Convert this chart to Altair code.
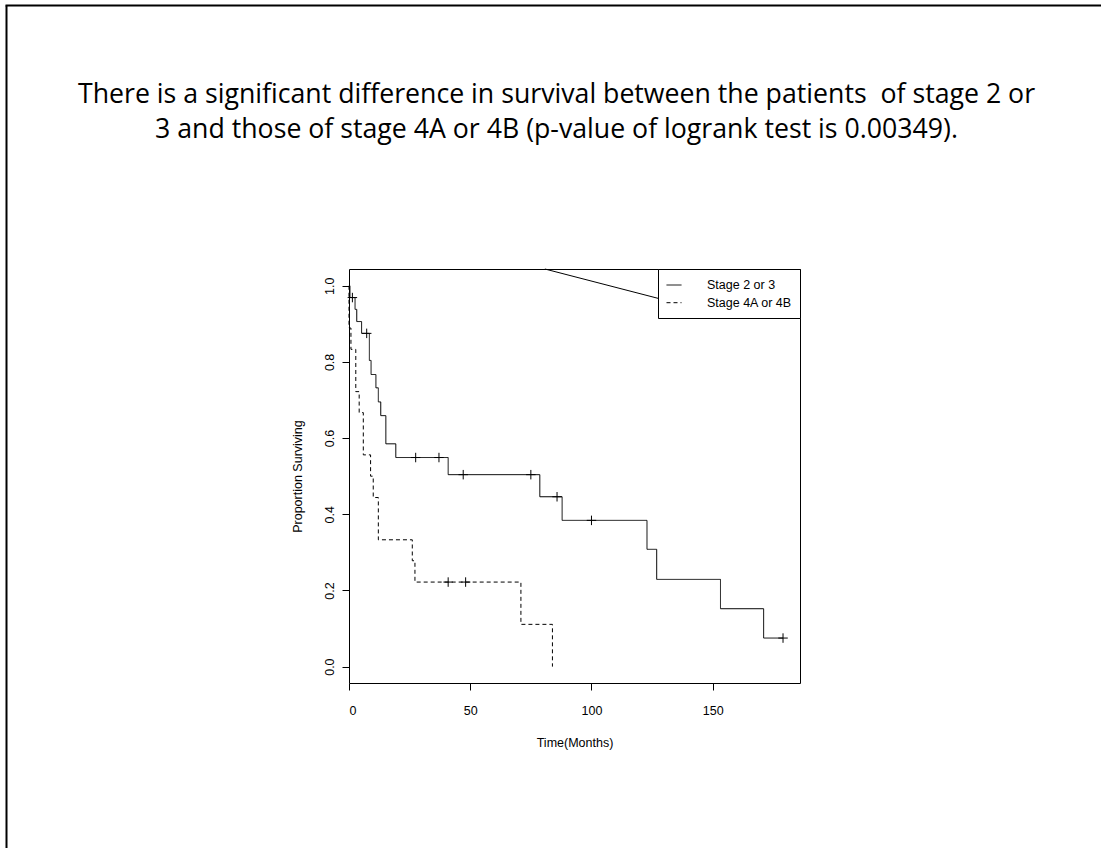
import altair as alt
import pandas as pd

# ---------------- data ----------------
groups = ["Stage 2 or 3", "Stage 4A or 4B"]

# Kaplan-Meier step points, Stage 2 or 3 (solid)
s23_time = [0, 0.4, 2.5, 3.2, 5.2, 8.4, 9.1, 11.1, 12.1, 13.1, 15.2, 19.3,
            40.9, 78.7, 87.9, 122.9, 126.9, 153.2, 171.0, 179.0]
s23_surv = [1.0, 0.969, 0.938, 0.906, 0.875, 0.804, 0.767, 0.732, 0.695, 0.659,
            0.585, 0.549, 0.504, 0.446, 0.384, 0.308, 0.229, 0.152, 0.075, 0.075]
# censored observations, Stage 2 or 3
s23_cens_time = [1.4, 7.3, 27.5, 37.1, 47.1, 75.0, 85.8, 100.0, 179.0]
s23_cens_surv = [0.969, 0.875, 0.549, 0.549, 0.504, 0.504, 0.446, 0.384, 0.075]

# Kaplan-Meier step points, Stage 4A or 4B (dashed)
s4_time = [0, 0, 0.8, 2.8, 4.2, 5.9, 8.9, 10.0, 12.1, 26.1, 27.2, 70.9, 83.9]
s4_surv = [1.0, 0.889, 0.833, 0.722, 0.667, 0.556, 0.5, 0.444, 0.333, 0.278,
           0.222, 0.111, 0.0]
# censored observations, Stage 4A or 4B
s4_cens_time = [40.9, 48.1]
s4_cens_surv = [0.222, 0.222]

# stray line drawn from the legend placement in the original figure
stray_x = [80.8]
stray_y = [1.044]
stray_x2 = [133.5]
stray_y2 = [0.957]

x_ticks = [0, 50, 100, 150]
y_ticks = [0.0, 0.2, 0.4, 0.6, 0.8, 1.0]

title_lines = [
    "There is a significant difference in survival between the patients \u00a0of stage 2 or",
    "3 and those of stage 4A or 4B (p-value of logrank test is 0.00349).",
]

# ---------------- tables ----------------
steps = pd.DataFrame({
    "group": [groups[0]] * len(s23_time) + [groups[1]] * len(s4_time),
    "time": s23_time + s4_time,
    "surv": s23_surv + s4_surv,
    "idx": list(range(len(s23_time))) + list(range(len(s4_time))),
})
cens = pd.DataFrame({
    "group": [groups[0]] * len(s23_cens_time) + [groups[1]] * len(s4_cens_time),
    "time": s23_cens_time + s4_cens_time,
    "surv": s23_cens_surv + s4_cens_surv,
})
stray = pd.DataFrame({"x": stray_x, "y": stray_y, "x2": stray_x2, "y2": stray_y2})
one = pd.DataFrame({"a": [0]})

FONT = "Liberation Sans"
x_scale = alt.Scale(domain=[0, 186], nice=False, zero=False)
y_scale = alt.Scale(domain=[-0.043, 1.044], nice=False, zero=False)

x_enc = alt.X("time:Q", scale=x_scale,
              axis=alt.Axis(values=x_ticks, title="Time(Months)", format="d",
                            labelPadding=14, titlePadding=20))
y_enc = alt.Y("surv:Q", scale=y_scale,
              axis=alt.Axis(values=y_ticks, title="Proportion Surviving", format=".1f",
                            labelAngle=270, labelAlign="center", labelBaseline="bottom",
                            labelPadding=6, titlePadding=19))

lines = alt.Chart(steps).mark_line(
    interpolate="step-after", color="black", strokeWidth=1
).encode(
    x=x_enc,
    y=y_enc,
    strokeDash=alt.StrokeDash(
        "group:N",
        scale=alt.Scale(domain=groups, range=[[1, 0], [4, 3]]),
        legend=alt.Legend(
            title=None, orient="top-right", offset=0, symbolType="stroke",
            symbolSize=225, symbolStrokeWidth=1, symbolStrokeColor="black",
            labelFont=FONT, labelFontSize=12.5, labelColor="black",
            labelOffset=25, padding=8, rowPadding=2.7,
            strokeColor="black", fillColor="white", cornerRadius=0,
        ),
    ),
    order=alt.Order("idx:Q"),
)

marks = alt.Chart(cens).mark_point(
    shape="M-1,0L1,0M0,-1L0,1", filled=False, color="black", strokeWidth=1,
    size=90, opacity=1
).encode(x=alt.X("time:Q", scale=x_scale), y=alt.Y("surv:Q", scale=y_scale))

stray_line = alt.Chart(stray).mark_rule(color="black", strokeWidth=1).encode(
    x=alt.X("x:Q", scale=x_scale), y=alt.Y("y:Q", scale=y_scale),
    x2="x2:Q", y2="y2:Q",
)

# page frame (left and top edges of the original document box)
frame_left = alt.Chart(one).mark_rule(color="black", strokeWidth=2).encode(
    x=alt.value(-342.5), y=alt.value(-263.5), y2=alt.value(579)
)
frame_top = alt.Chart(one).mark_rule(color="black", strokeWidth=2).encode(
    x=alt.value(-343.5), x2=alt.value(752), y=alt.value(-263.5)
)

chart = alt.layer(lines, marks, stray_line, frame_left, frame_top).properties(
    width=451,
    height=414,
    autosize=alt.AutoSizeParams(type="none"),
    padding={"left": 349, "top": 269, "right": 301, "bottom": 165},
    title=alt.Title(
        text=title_lines, font="Open Sans", fontSize=26.7, fontWeight="normal",
        color="black", anchor="middle", frame="group", dx=-18,
        lineHeight=34.6, offset=-139,
    ),
    background="white",
).configure_view(
    stroke="black", strokeWidth=1
).configure_axis(
    domain=False, grid=False, tickColor="black", tickSize=7, tickWidth=1,
    labelFont=FONT, labelFontSize=12.5, labelColor="black",
    titleFont=FONT, titleFontSize=12.5, titleFontWeight="normal", titleColor="black",
)

chart.save("out.html", embed_options={"renderer": "svg", "actions": False})
